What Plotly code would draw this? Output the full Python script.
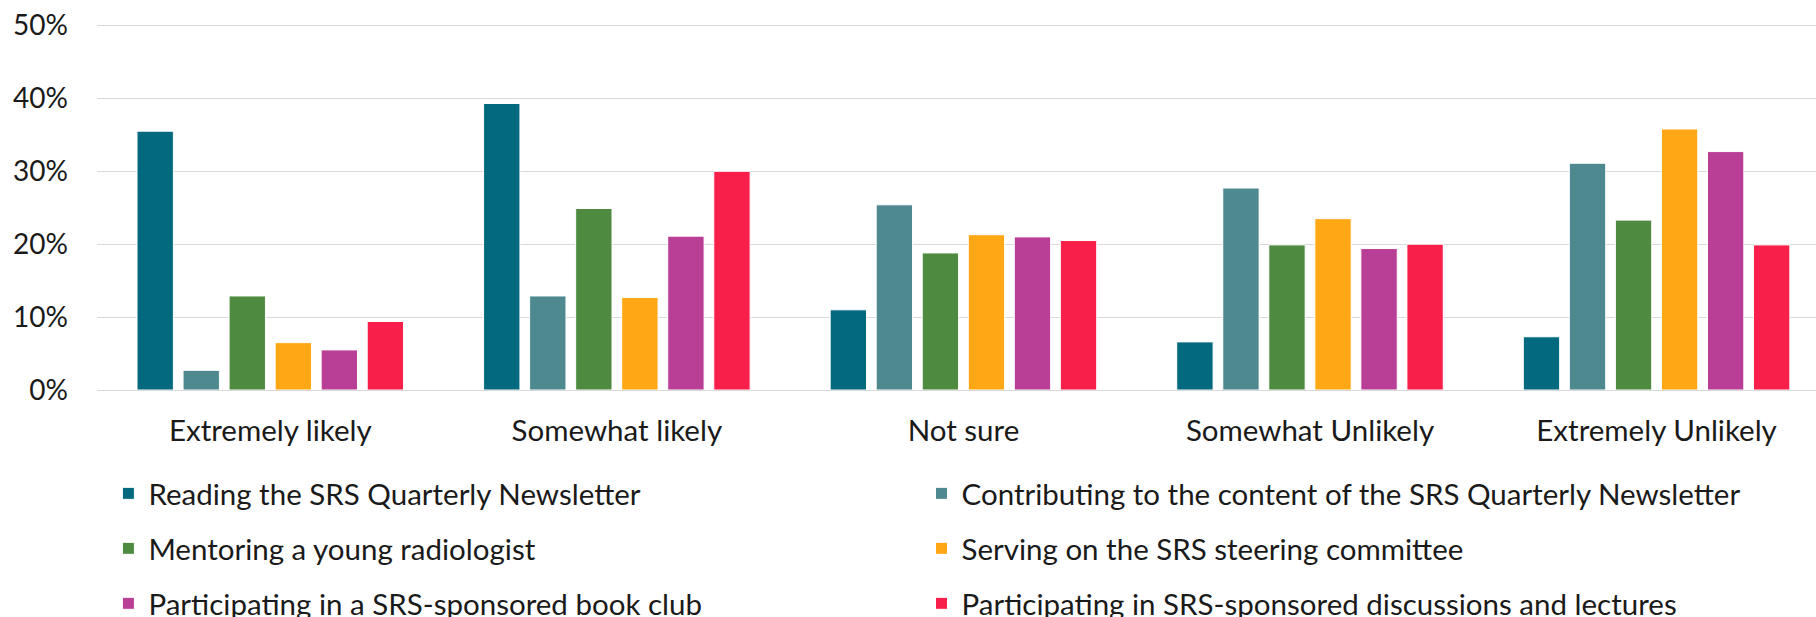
import plotly.graph_objects as go

categories = ["Extremely likely", "Somewhat likely", "Not sure", "Somewhat Unlikely", "Extremely Unlikely"]

reading_newsletter = [35.5, 39.3, 11.0, 6.6, 7.3]
contributing_newsletter = [2.7, 12.9, 25.4, 27.7, 31.1]
mentoring = [12.9, 24.9, 18.8, 19.9, 23.3]
steering_committee = [6.5, 12.7, 21.3, 23.5, 35.8]
book_club = [5.5, 21.1, 21.0, 19.4, 32.7]
discussions_lectures = [9.4, 30.0, 20.5, 20.0, 19.9]

y_tick_values = [0, 10, 20, 30, 40, 50]
y_tick_labels = ["0%", "10%", "20%", "30%", "40%", "50%"]

series = [
    ("Reading the SRS Quarterly Newsletter", reading_newsletter, "#03697F"),
    ("Contributing to the content of the SRS Quarterly Newsletter", contributing_newsletter, "#4F8990"),
    ("Mentoring a young radiologist", mentoring, "#4E8B40"),
    ("Serving on the SRS steering committee", steering_committee, "#FFA714"),
    ("Participating in a SRS-sponsored book club", book_club, "#B93E96"),
    ("Participating in SRS-sponsored discussions and lectures", discussions_lectures, "#F91F4B"),
]

FONT = "Lato, 'Open Sans', sans-serif"
TXT = "#1a1a1a"

W, H = 1816, 617
L, T, B = 97, 24.2, 226.7
plot_h = H - T - B
plot_w = W - L

def py(px):
    return (H - B - px) / plot_h

def pxx(px):
    return (px - L) / plot_w

row_y = [494, 549, 604]
col_x = [108.4, 921.5]

fig = go.Figure()
legend_layouts = {}
for i, (name, vals, color) in enumerate(series):
    lg = "legend" if i == 0 else f"legend{i + 1}"
    fig.add_trace(go.Bar(
        x=categories, y=vals, name=name,
        marker=dict(color=color, line=dict(color="white", width=1)),
        legend=lg,
    ))
    legend_layouts[lg] = dict(
        orientation="v", x=pxx(col_x[i % 2]), y=py(row_y[i // 2]),
        xanchor="left", yanchor="middle",
        font=dict(family=FONT, size=29.5, color=TXT),
        bgcolor="rgba(0,0,0,0)", borderwidth=0,
    )

fig.update_layout(
    width=W, height=H,
    margin=dict(l=L, r=0, t=T, b=B, autoexpand=False),
    paper_bgcolor="white", plot_bgcolor="white",
    font=dict(family=FONT, size=29.5, color=TXT),
    barmode="group", bargap=0.203, bargroupgap=0.21,
    showlegend=True,
    xaxis=dict(
        range=[-0.5, 4.46], showgrid=False, showline=False, zeroline=False,
        ticks="", tickfont=dict(family=FONT, size=29.5, color=TXT),
        ticklabelstandoff=20,
    ),
    yaxis=dict(
        range=[0, 50.2], tickmode="array", tickvals=y_tick_values, ticktext=y_tick_labels,
        showgrid=True, gridcolor="#D9D9D9", gridwidth=1.4,
        zeroline=True, zerolinecolor="#D9D9D9", zerolinewidth=1.4,
        showline=False, ticks="",
        tickfont=dict(family=FONT, size=28, color=TXT),
        ticklabelstandoff=28,
    ),
    **legend_layouts,
)

fig.write_html(
    "out.html",
    config={"displayModeBar": False},
    post_script="document.body.style.margin='0px';document.body.style.overflow='hidden';",
)
